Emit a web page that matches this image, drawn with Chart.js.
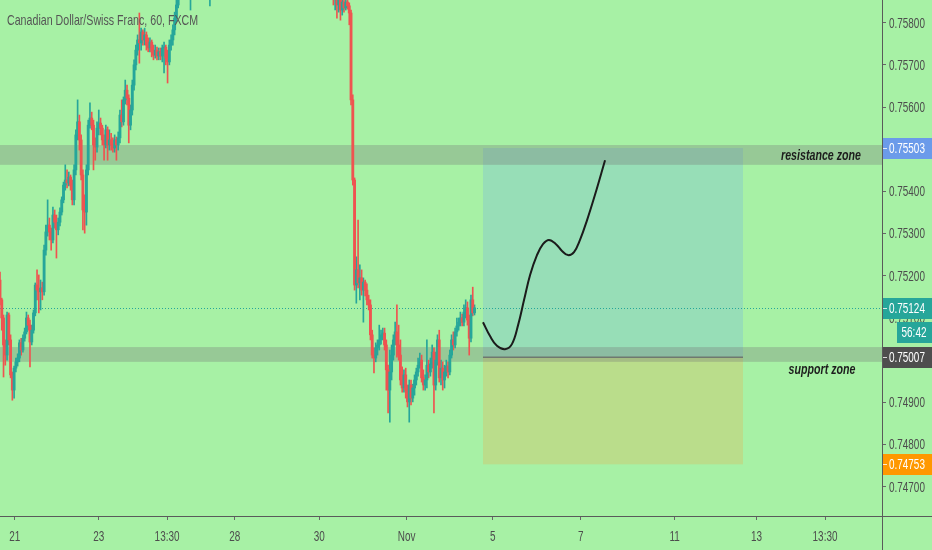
<!DOCTYPE html>
<html>
<head>
<meta charset="utf-8">
<script src="https://cdn.jsdelivr.net/npm/chart.js@4.4.0/dist/chart.umd.min.js"></script>
<style>
  html, body { margin: 0; padding: 0; background: #a7f1a5; }
  #wrap { width: 932px; height: 550px; position: relative; }
</style>
</head>
<body>
<div id="wrap"><canvas id="cadchfChart"></canvas></div>
<script>
// CADCHF hourly candles, prices.
// Bars are placed in hourly slots; the middle of the week runs above the
// visible range, only two stray wicks poke into view there.
const runStarts = [0, 108, 119, 188];
const runLengths = [102, 1, 1, 82];

const opens = [
  0.75190, 0.75143, 0.75100, 0.75036, 0.75012, 0.75107, 0.75048, 0.74965, 0.74929, 0.74981,
  0.74996, 0.75005, 0.75041, 0.75024, 0.75052, 0.75067, 0.75100, 0.75083, 0.75043, 0.75071,
  0.75112, 0.75178, 0.75166, 0.75162, 0.75171, 0.75162, 0.75261, 0.75304, 0.75320, 0.75304,
  0.75285, 0.75344, 0.75327, 0.75309, 0.75327, 0.75351, 0.75380, 0.75415, 0.75427, 0.75420,
  0.75434, 0.75415, 0.75380, 0.75451, 0.75534, 0.75565, 0.75522, 0.75439, 0.75356, 0.75351,
  0.75451, 0.75557, 0.75574, 0.75557, 0.75510, 0.75505, 0.75550, 0.75562, 0.75550, 0.75522,
  0.75510, 0.75546, 0.75510, 0.75522, 0.75510, 0.75503, 0.75522, 0.75510, 0.75527, 0.75581,
  0.75565, 0.75617, 0.75640, 0.75621, 0.75557, 0.75593, 0.75652, 0.75700, 0.75735, 0.75759,
  0.75752, 0.75778, 0.75759, 0.75771, 0.75747, 0.75740, 0.75754, 0.75731, 0.75723, 0.75735,
  0.75721, 0.75731, 0.75721, 0.75740, 0.75742, 0.75716, 0.75707, 0.75747, 0.75759, 0.75783,
  0.75811, 0.75842,
  0.75913,
  0.75901,
  0.75913, 0.75889, 0.75859, 0.75873, 0.75842, 0.75859, 0.75830, 0.75849, 0.75835, 0.75849,
  0.75840, 0.75823, 0.75617, 0.75427, 0.75178, 0.75214, 0.75183, 0.75195, 0.75166, 0.75185,
  0.75166, 0.75143, 0.75131, 0.75060, 0.75012, 0.75005, 0.75029, 0.75036, 0.75048, 0.75060,
  0.75064, 0.75036, 0.74977, 0.74929, 0.74972, 0.75012, 0.75048, 0.75067, 0.75036, 0.75012,
  0.74953, 0.74934, 0.74965, 0.74929, 0.74901, 0.74941, 0.74910, 0.74934, 0.74953, 0.74972,
  0.74988, 0.75000, 0.74958, 0.74941, 0.74953, 0.74988, 0.74972, 0.74991, 0.75019, 0.74941,
  0.75000, 0.75048, 0.74958, 0.74981, 0.74953, 0.74972, 0.74986, 0.74972, 0.75012, 0.75048,
  0.75036, 0.75067, 0.75081, 0.75090, 0.75100, 0.75090, 0.75114, 0.75124, 0.75095, 0.75052,
  0.75143, 0.75112
];
const highs = [
  0.75209, 0.75147, 0.75107, 0.75048, 0.75114, 0.75112, 0.75060, 0.74972, 0.74986, 0.75005,
  0.75015, 0.75048, 0.75052, 0.75060, 0.75076, 0.75114, 0.75107, 0.75095, 0.75083, 0.75119,
  0.75183, 0.75214, 0.75202, 0.75190, 0.75185, 0.75273, 0.75320, 0.75380, 0.75337, 0.75313,
  0.75363, 0.75356, 0.75344, 0.75337, 0.75361, 0.75387, 0.75422, 0.75463, 0.75451, 0.75446,
  0.75439, 0.75427, 0.75463, 0.75546, 0.75617, 0.75581, 0.75534, 0.75451, 0.75392, 0.75463,
  0.75569, 0.75610, 0.75588, 0.75569, 0.75527, 0.75565, 0.75593, 0.75574, 0.75557, 0.75534,
  0.75557, 0.75553, 0.75546, 0.75538, 0.75527, 0.75534, 0.75529, 0.75541, 0.75593, 0.75617,
  0.75624, 0.75664, 0.75652, 0.75629, 0.75605, 0.75664, 0.75712, 0.75747, 0.75771, 0.75823,
  0.75787, 0.75783, 0.75787, 0.75778, 0.75764, 0.75764, 0.75759, 0.75747, 0.75747, 0.75742,
  0.75740, 0.75740, 0.75747, 0.75754, 0.75747, 0.75735, 0.75759, 0.75771, 0.75795, 0.75825,
  0.75866, 0.75901,
  0.75949,
  0.75937,
  0.75925, 0.75901, 0.75889, 0.75882, 0.75873, 0.75866, 0.75861, 0.75866, 0.75863, 0.75859,
  0.75847, 0.75830, 0.75629, 0.75432, 0.75245, 0.75332, 0.75226, 0.75214, 0.75195, 0.75190,
  0.75181, 0.75154, 0.75143, 0.75071, 0.75029, 0.75041, 0.75048, 0.75083, 0.75071, 0.75076,
  0.75076, 0.75048, 0.74988, 0.75024, 0.75036, 0.75060, 0.75090, 0.75131, 0.75083, 0.75048,
  0.74984, 0.74977, 0.74981, 0.74941, 0.74953, 0.74953, 0.74943, 0.74965, 0.74981, 0.75005,
  0.75017, 0.75012, 0.74977, 0.74965, 0.75048, 0.75000, 0.75005, 0.75036, 0.75029, 0.75019,
  0.75060, 0.75071, 0.75000, 0.74996, 0.74988, 0.75000, 0.74996, 0.75024, 0.75060, 0.75067,
  0.75076, 0.75100, 0.75100, 0.75114, 0.75109, 0.75131, 0.75143, 0.75138, 0.75107, 0.75154,
  0.75173, 0.75131
];
const lows = [
  0.75131, 0.75071, 0.74960, 0.74988, 0.75000, 0.75036, 0.74958, 0.74905, 0.74910, 0.74972,
  0.74986, 0.74996, 0.75012, 0.75019, 0.75045, 0.75062, 0.75071, 0.74984, 0.75036, 0.75064,
  0.75105, 0.75143, 0.75112, 0.75119, 0.75143, 0.75154, 0.75249, 0.75294, 0.75285, 0.75261,
  0.75278, 0.75313, 0.75242, 0.75297, 0.75318, 0.75344, 0.75373, 0.75403, 0.75408, 0.75413,
  0.75403, 0.75368, 0.75368, 0.75439, 0.75522, 0.75498, 0.75427, 0.75309, 0.75301, 0.75320,
  0.75439, 0.75550, 0.75546, 0.75451, 0.75474, 0.75493, 0.75534, 0.75534, 0.75510, 0.75474,
  0.75503, 0.75474, 0.75498, 0.75498, 0.75493, 0.75493, 0.75474, 0.75498, 0.75515, 0.75553,
  0.75557, 0.75607, 0.75605, 0.75515, 0.75546, 0.75581, 0.75640, 0.75688, 0.75723, 0.75704,
  0.75735, 0.75747, 0.75747, 0.75735, 0.75731, 0.75731, 0.75719, 0.75712, 0.75716, 0.75712,
  0.75712, 0.75712, 0.75707, 0.75681, 0.75700, 0.75657, 0.75700, 0.75735, 0.75747, 0.75771,
  0.75802, 0.75835,
  0.75830,
  0.75840,
  0.75873, 0.75842, 0.75830, 0.75811, 0.75825, 0.75806, 0.75818, 0.75825, 0.75830, 0.75832,
  0.75795, 0.75605, 0.75415, 0.75166, 0.75135, 0.75171, 0.75143, 0.75154, 0.75090, 0.75152,
  0.75131, 0.75119, 0.75048, 0.75005, 0.74970, 0.74996, 0.75012, 0.75024, 0.75038, 0.75048,
  0.75024, 0.74929, 0.74875, 0.74853, 0.74953, 0.75000, 0.75036, 0.75007, 0.75000, 0.74941,
  0.74924, 0.74924, 0.74910, 0.74889, 0.74853, 0.74894, 0.74901, 0.74917, 0.74941, 0.74962,
  0.74981, 0.74948, 0.74929, 0.74929, 0.74934, 0.74958, 0.74962, 0.74981, 0.74875, 0.74929,
  0.74988, 0.74948, 0.74941, 0.74929, 0.74934, 0.74962, 0.74958, 0.74965, 0.75005, 0.75024,
  0.75029, 0.75057, 0.75071, 0.75081, 0.75081, 0.75081, 0.75100, 0.75083, 0.75012, 0.75043,
  0.75105, 0.75107
];
const closes = [
  0.75143, 0.75100, 0.75036, 0.75012, 0.75107, 0.75048, 0.74965, 0.74929, 0.74981, 0.74996,
  0.75005, 0.75041, 0.75024, 0.75052, 0.75067, 0.75100, 0.75083, 0.75043, 0.75071, 0.75112,
  0.75178, 0.75166, 0.75162, 0.75171, 0.75162, 0.75261, 0.75304, 0.75320, 0.75304, 0.75285,
  0.75344, 0.75327, 0.75309, 0.75327, 0.75351, 0.75380, 0.75415, 0.75427, 0.75420, 0.75434,
  0.75415, 0.75380, 0.75451, 0.75534, 0.75565, 0.75522, 0.75439, 0.75356, 0.75351, 0.75451,
  0.75557, 0.75574, 0.75557, 0.75510, 0.75505, 0.75550, 0.75562, 0.75550, 0.75522, 0.75510,
  0.75546, 0.75510, 0.75522, 0.75510, 0.75503, 0.75522, 0.75510, 0.75527, 0.75581, 0.75565,
  0.75617, 0.75640, 0.75621, 0.75557, 0.75593, 0.75652, 0.75700, 0.75735, 0.75759, 0.75752,
  0.75778, 0.75759, 0.75771, 0.75747, 0.75740, 0.75754, 0.75731, 0.75723, 0.75735, 0.75721,
  0.75731, 0.75721, 0.75740, 0.75742, 0.75716, 0.75707, 0.75747, 0.75759, 0.75783, 0.75811,
  0.75842, 0.75878,
  0.75925,
  0.75920,
  0.75889, 0.75859, 0.75873, 0.75842, 0.75859, 0.75830, 0.75849, 0.75835, 0.75849, 0.75840,
  0.75823, 0.75617, 0.75427, 0.75178, 0.75214, 0.75183, 0.75195, 0.75166, 0.75185, 0.75166,
  0.75143, 0.75131, 0.75060, 0.75012, 0.75005, 0.75029, 0.75036, 0.75048, 0.75060, 0.75064,
  0.75036, 0.74977, 0.74929, 0.74972, 0.75012, 0.75048, 0.75067, 0.75036, 0.75012, 0.74953,
  0.74934, 0.74965, 0.74929, 0.74901, 0.74941, 0.74910, 0.74934, 0.74953, 0.74972, 0.74988,
  0.75000, 0.74958, 0.74941, 0.74953, 0.74988, 0.74972, 0.74991, 0.75019, 0.74941, 0.75000,
  0.75048, 0.74958, 0.74981, 0.74953, 0.74972, 0.74986, 0.74972, 0.75012, 0.75048, 0.75036,
  0.75067, 0.75081, 0.75090, 0.75100, 0.75090, 0.75114, 0.75124, 0.75095, 0.75052, 0.75143,
  0.75112, 0.75124
];

// time axis: tick positions (hour slots) and labels
const xTickSlots = [8.4, 56.0, 94.7, 133.1, 181.0, 230.5, 279.4, 329.2, 382.4, 428.9, 467.7];
const xTickLabels = ['21', '23', '13:30', '28', '30', 'Nov', '5', '7', '11', '13', '13:30'];

// price axis ticks
const priceTicks = [0.747, 0.748, 0.749, 0.750, 0.751, 0.752, 0.753, 0.754, 0.755, 0.756, 0.757, 0.758];

// drawings on the chart
const resistanceZone = [0.75463, 0.75510];
const supportZone = [0.74996, 0.75031];
const targetPrice = 0.75503;
const entryPrice = 0.75007;
const stopPrice = 0.74753;
const lastPrice = 0.75124;
const barCountdown = '56:42';
const positionSlots = [273.8, 421.2];

// hand drawn projection
const pathSlots = [273.8, 277.8, 281.7, 286.3, 290.2, 293.7, 297.1, 300.5, 304.4, 307.8,
  311.2, 315.2, 318.6, 322.0, 325.4, 328.8, 332.8, 337.3, 343.0];
const pathPrices = [0.75090, 0.75057, 0.75034, 0.75026, 0.75038, 0.75083, 0.75143, 0.75202, 0.75249, 0.75275,
  0.75285, 0.75275, 0.75259, 0.75249, 0.75256, 0.75285, 0.75332, 0.75392, 0.75474];

const sans = '"Liberation Sans", Arial, sans-serif';
const squeeze = 0.71; // the screenshot's lettering is narrow
const upColor = '#26a69a';
const downColor = '#ef5350';

const barSlots = [];
runStarts.forEach((start, r) => {
  for (let k = 0; k < runLengths[r]; k++) barSlots.push(start + k);
});

const candleColor = (c) => closes[c.dataIndex] >= opens[c.dataIndex] ? upColor : downColor;

// narrow text: measure, then draw with a horizontal squeeze
function narrowText(ctx, text, x, y, align, font, color) {
  ctx.save();
  ctx.font = font;
  ctx.fillStyle = color;
  ctx.textAlign = 'left';
  ctx.textBaseline = 'middle';
  const w = ctx.measureText(text).width * squeeze;
  const left = align === 'center' ? x - w / 2 : (align === 'right' ? x - w : x);
  ctx.translate(left, y);
  ctx.scale(squeeze, 1);
  ctx.fillText(text, 0, 0);
  ctx.restore();
}

function priceTag(ctx, yPix, color, text) {
  const yc = Math.round(yPix);
  ctx.fillStyle = color;
  ctx.fillRect(883, yc - 10, 49, 21);
  ctx.strokeStyle = 'rgba(255,255,255,0.8)';
  ctx.lineWidth = 1;
  ctx.beginPath();
  ctx.moveTo(883, yc + 0.5);
  ctx.lineTo(887, yc + 0.5);
  ctx.stroke();
  narrowText(ctx, text, 889, yc + 1, 'left', '14px ' + sans, '#fff');
}

const drawings = {
  id: 'drawings',
  beforeDatasetsDraw(chart) {
    const { ctx, chartArea: a, scales: { x, y } } = chart;
    ctx.save();
    ctx.beginPath();
    ctx.rect(a.left, a.top, a.right - a.left, a.bottom - a.top);
    ctx.clip();

    // long position tool
    const x0 = x.getPixelForValue(positionSlots[0]);
    const x1 = x.getPixelForValue(positionSlots[1]);
    const yT = y.getPixelForValue(targetPrice);
    const yE = y.getPixelForValue(entryPrice);
    const yS = y.getPixelForValue(stopPrice);
    ctx.fillStyle = '#97deb7';
    ctx.fillRect(x0, yT, x1 - x0, yE - yT);
    ctx.fillStyle = '#badd8b';
    ctx.fillRect(x0, yE, x1 - x0, yS - yE);

    // zones
    ctx.fillStyle = 'rgba(118,118,118,0.32)';
    [resistanceZone, supportZone].forEach((z) => {
      const top = y.getPixelForValue(z[1]);
      const bot = y.getPixelForValue(z[0]);
      ctx.fillRect(a.left, top, a.right - a.left, bot - top);
    });

    // entry line
    ctx.strokeStyle = '#6f786f';
    ctx.lineWidth = 1.5;
    ctx.beginPath();
    ctx.moveTo(x0, yE);
    ctx.lineTo(x1, yE);
    ctx.stroke();

    // last price line
    const yL = Math.round(y.getPixelForValue(lastPrice)) + 0.5;
    ctx.strokeStyle = upColor;
    ctx.lineWidth = 1;
    ctx.setLineDash([1, 2]);
    ctx.beginPath();
    ctx.moveTo(a.left, yL);
    ctx.lineTo(a.right, yL);
    ctx.stroke();
    ctx.restore();
  },
  afterDatasetsDraw(chart) {
    const { ctx, scales: { y } } = chart;
    narrowText(ctx, 'Canadian Dollar/Swiss Franc, 60, FXCM', 7, 21, 'left', '15px ' + sans, '#555');
    const rMid = (y.getPixelForValue(resistanceZone[0]) + y.getPixelForValue(resistanceZone[1])) / 2;
    narrowText(ctx, 'resistance zone', 821, rMid + 1, 'center', 'italic bold 15px ' + sans, '#1d1d1d');
    narrowText(ctx, 'support zone', 822, y.getPixelForValue(supportZone[0]) + 8, 'center', 'italic bold 15px ' + sans, '#1d1d1d');
  },
  afterDraw(chart) {
    const { ctx, chartArea: a, scales: { x, y } } = chart;
    ctx.save();
    ctx.strokeStyle = '#5a5a5a';
    ctx.lineWidth = 1;
    ctx.beginPath();
    ctx.moveTo(a.right + 0.5, 0);
    ctx.lineTo(a.right + 0.5, 550);
    ctx.moveTo(0, a.bottom + 0.5);
    ctx.lineTo(932, a.bottom + 0.5);
    ctx.stroke();
    ctx.restore();

    // axis labels, placed by the chart's scales
    priceTicks.forEach((v) => {
      narrowText(ctx, v.toFixed(5), 889, y.getPixelForValue(v) + 1, 'left', '14px ' + sans, '#4d4d4d');
    });
    xTickSlots.forEach((v, i) => {
      narrowText(ctx, xTickLabels[i], x.getPixelForValue(v), a.bottom + 21, 'center', '14px ' + sans, '#4d4d4d');
    });

    priceTag(ctx, y.getPixelForValue(targetPrice), '#6b9bea', targetPrice.toFixed(5));
    priceTag(ctx, y.getPixelForValue(lastPrice), '#26a69a', lastPrice.toFixed(5));
    priceTag(ctx, y.getPixelForValue(entryPrice), '#4e4e4e', entryPrice.toFixed(5));
    priceTag(ctx, y.getPixelForValue(stopPrice), '#ff9800', stopPrice.toFixed(5));

    // countdown to bar close
    const yc = Math.round(y.getPixelForValue(lastPrice) + 24);
    ctx.fillStyle = '#26a69a';
    ctx.fillRect(897, yc - 10, 35, 21);
    narrowText(ctx, barCountdown, 914, yc + 1, 'center', '14px ' + sans, '#fff');
  }
};

window.addEventListener('DOMContentLoaded', () => {
  new Chart(document.getElementById('cadchfChart'), {
    type: 'bar',
    data: {
      datasets: [
        {
          type: 'line',
          data: pathSlots.map((s, i) => ({ x: s, y: pathPrices[i] })),
          borderColor: '#1b1b1b',
          borderWidth: 2,
          pointRadius: 0,
          tension: 0.4,
          order: 0
        },
        {
          data: barSlots.map((s, i) => ({ x: s, y: [opens[i], closes[i]] })),
          backgroundColor: candleColor,
          barThickness: 2.2,
          minBarLength: 1,
          grouped: false,
          clip: 0,
          order: 1
        },
        {
          data: barSlots.map((s, i) => ({ x: s, y: [lows[i], highs[i]] })),
          backgroundColor: candleColor,
          barThickness: 1,
          grouped: false,
          clip: 0,
          order: 2
        }
      ]
    },
    options: {
      responsive: true,
      maintainAspectRatio: false,
      animation: false,
      layout: { padding: 0, autoPadding: false },
      plugins: { legend: { display: false }, tooltip: { enabled: false } },
      scales: {
        x: {
          type: 'linear',
          min: 0,
          max: 500,
          offset: false,
          grid: { offset: false, drawOnChartArea: false, drawTicks: true, tickLength: 4, color: '#666' },
          border: { display: false },
          afterBuildTicks: (s) => { s.ticks = xTickSlots.map((v) => ({ value: v })); },
          afterFit: (s) => { s.height = 34; },
          ticks: { display: false, autoSkip: false, maxRotation: 0 }
        },
        y: {
          position: 'right',
          min: 0.746305,
          max: 0.758538,
          grid: { drawOnChartArea: false, drawTicks: true, tickLength: 4, color: '#666' },
          border: { display: false },
          afterBuildTicks: (s) => { s.ticks = priceTicks.map((v) => ({ value: v })); },
          afterFit: (s) => { s.width = 50; },
          ticks: { display: false }
        }
      }
    },
    plugins: [drawings]
  });
});
</script>
</body>
</html>
